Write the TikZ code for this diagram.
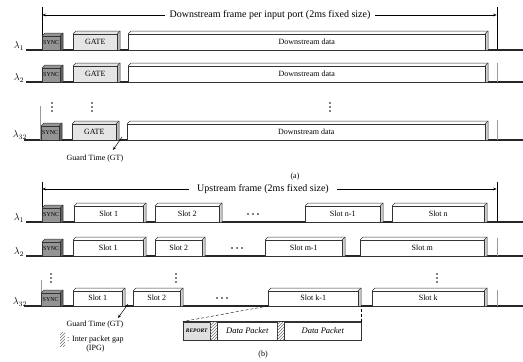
\documentclass[tikz,border=0pt]{standalone}
\usepackage{fontspec}
\setmainfont{Liberation Serif}
\usetikzlibrary{patterns,arrows.meta}
\tikzset{
  boxln/.style={line width=0.5pt, black!80},
  boxface/.style={draw=black!80, line width=0.5pt, inner sep=0pt, anchor=south west, font=\fontsize{8}{9}\selectfont},
  plainbox/.style={draw=black!80, line width=0.5pt, inner sep=0pt, anchor=south west, minimum height=18},
  hatchbox/.style={pattern=north east lines, pattern color=black!55, inner sep=0pt, anchor=south west, minimum height=18},
  baseln/.style={line width=1.3pt, black!85},
  frameln/.style={line width=0.5pt, black},
  faintln/.style={line width=0.8pt, black!40},
  lbl/.style={font=\fontsize{8}{9}\selectfont, inner sep=1pt},
  hdr/.style={font=\fontsize{10}{11}\selectfont, inner sep=4pt},
  lam/.style={font=\fontsize{10}{12}\selectfont, inner sep=0pt},
  dotn/.style={circle, fill=black, inner sep=0pt, minimum size=1.7pt},
  arr/.style={-{Stealth[length=3.5pt,width=2.6pt]}, line width=0.5pt},
  syncf/.style={fill=black!42}, syncs/.style={fill=black!62},
  gatef/.style={fill=black!10}, gates/.style={fill=black!28},
  whitef/.style={fill=white}, whites/.style={fill=black!18},
}
% #1 name, #2 x1, #3 x2, #4 ytop, #5 ybottom, #6 face style, #7 side style, #8 text
\newcommand\bevbox[8]{%
  \fill[#7] ({#3-3},{#4+3}) -- (#3,#4) -- (#3,#5) -- ({#3-3},#5) -- cycle;
  \fill[#6] (#2,{#4+3}) -- ({#2+3},#4) -- (#3,#4) -- ({#3-3},{#4+3}) -- cycle;
  \draw[boxln] (#2,{#4+3}) -- ({#2+3},#4) -- (#3,#4) -- (#3,#5);
  \draw[boxln] ({#3-3},{#4+3}) -- (#3,#4);
  \node[boxface, #6, minimum width={#3-#2-3}, minimum height={#5-#4-3}] (#1) at (#2,#5) {#8};
}
% vertical ellipsis: #1 name, #2 x, #3 y
\newcommand\vdotmark[3]{%
  \node[dotn] (#1a) at (#2,{#3-4}) {};
  \node[dotn] (#1b) at (#2,#3) {};
  \node[dotn] (#1c) at (#2,{#3+4}) {};
}
% horizontal ellipsis: #1 name, #2 x, #3 y
\newcommand\hdotmark[3]{%
  \node[dotn] (#1a) at ({#2-5},#3) {};
  \node[dotn] (#1b) at (#2,#3) {};
  \node[dotn] (#1c) at ({#2+5},#3) {};
}
\begin{document}
\begin{tikzpicture}[x=1pt,y=-1pt]
\useasboundingbox (0,0) rectangle (523,362);

% ================= (a) =================
\coordinate (aL0) at (42,7);  \coordinate (aL1) at (42,50);
\coordinate (aR0) at (497,7); \coordinate (aR1) at (497,50);
\draw[frameln] (aL0) -- (aL1);
\draw[frameln] (aR0) -- (aR1);
\node[hdr] (ahdr) at (270,15) {Downstream frame per input port (2ms fixed size)};
\coordinate (aAL) at (42.3,15); \coordinate (aAR) at (496.7,15);
\draw[arr] (ahdr.west) -- (aAL);
\draw[arr] (ahdr.east) -- (aAR);

% row lambda 1
\node[lam] (la1) at (19,46) {$\lambda_{1}$};
\coordinate (ba1s) at (26,50); \coordinate (ba1e) at (523,50);
\draw[baseln] (ba1s) -- (ba1e);
\bevbox{a1s}{42}{63}{33}{50}{syncf}{syncs}{\fontsize{6}{6}\selectfont SYNC}
\bevbox{a1g}{73}{120}{31}{50}{gatef}{gates}{GATE}
\bevbox{a1d}{128}{488}{31}{50}{whitef}{whites}{Downstream data}

% row lambda 2
\node[lam] (la2) at (19,78) {$\lambda_{2}$};
\coordinate (ba2s) at (26,82); \coordinate (ba2e) at (523,82);
\draw[baseln] (ba2s) -- (ba2e);
\coordinate (aR2a) at (497,63); \coordinate (aR2b) at (497,82);
\draw[faintln] (aR2a) -- (aR2b);
\bevbox{a2s}{42}{63}{65}{82}{syncf}{syncs}{\fontsize{6}{6}\selectfont SYNC}
\bevbox{a2g}{73}{120}{63}{82}{gatef}{gates}{GATE}
\bevbox{a2d}{128}{488}{63}{82}{whitef}{whites}{Downstream data}

% dots
\vdotmark{ad1}{52}{107}
\vdotmark{ad2}{92}{107}
\vdotmark{ad3}{330}{107}

% row lambda 32
\node[lam] (la32) at (20,135) {$\lambda_{32}$};
\coordinate (ba3s) at (24,140); \coordinate (ba3e) at (523,140);
\draw[baseln] (ba3s) -- (ba3e);
\coordinate (aL3a) at (40,106); \coordinate (aL3b) at (40,140);
\draw[faintln] (aL3a) -- (aL3b);
\coordinate (aR3a) at (497,120); \coordinate (aR3b) at (497,140);
\draw[faintln] (aR3a) -- (aR3b);
\bevbox{a3s}{41}{62}{123}{140}{syncf}{syncs}{\fontsize{6}{6}\selectfont SYNC}
\bevbox{a3g}{72}{119}{121}{140}{gatef}{gates}{GATE}
\bevbox{a3d}{127}{488}{121}{140}{whitef}{whites}{Downstream data}

\coordinate (agt) at (122,137);
\coordinate (agtend) at (113,150);
\draw[arr] (agt) -- (agtend);
\node[lbl] (agtt) at (95,159) {Guard Time (GT)};
\node[lbl] (capa) at (295,177) {(a)};

% ================= (b) =================
\coordinate (bL0) at (42,182); \coordinate (bL1) at (42,222);
\coordinate (bR0) at (497,182); \coordinate (bR1) at (497,222);
\draw[frameln] (bL0) -- (bL1);
\draw[frameln] (bR0) -- (bR1);
\node[hdr] (bhdr) at (263,189) {Upstream frame (2ms fixed size)};
\coordinate (bAL) at (42.3,189); \coordinate (bAR) at (496.7,189);
\draw[arr] ([xshift=-4pt]bhdr.west) -- (bAL);
\draw[arr] ([xshift=4pt]bhdr.east) -- (bAR);

% row lambda 1
\node[lam] (lb1) at (19,218) {$\lambda_{1}$};
\coordinate (bb1s) at (26,222); \coordinate (bb1e) at (523,222);
\draw[baseln] (bb1s) -- (bb1e);
\bevbox{b1s}{42}{63}{205}{222}{syncf}{syncs}{\fontsize{6}{6}\selectfont SYNC}
\bevbox{b11}{74}{146}{203}{222}{whitef}{whites}{Slot 1}
\bevbox{b12}{155}{222}{203}{222}{whitef}{whites}{Slot 2}
\hdotmark{bh1}{253}{214}
\bevbox{b1n1}{305}{383}{203}{222}{whitef}{whites}{Slot n-1}
\bevbox{b1n}{392}{487}{203}{222}{whitef}{whites}{Slot n}

% row lambda 2
\node[lam] (lb2) at (19,252) {$\lambda_{2}$};
\coordinate (bb2s) at (26,256); \coordinate (bb2e) at (523,256);
\draw[baseln] (bb2s) -- (bb2e);
\coordinate (bR2a) at (497,238); \coordinate (bR2b) at (497,256);
\draw[faintln] (bR2a) -- (bR2b);
\bevbox{b2s}{42}{63}{239}{256}{syncf}{syncs}{\fontsize{6}{6}\selectfont SYNC}
\bevbox{b21}{73}{146}{237}{256}{whitef}{whites}{Slot 1}
\bevbox{b22}{155}{205}{237}{256}{whitef}{whites}{Slot 2}
\hdotmark{bh2}{237}{248}
\bevbox{b2m1}{265}{345}{237}{256}{whitef}{whites}{Slot m-1}
\bevbox{b2m}{360}{487}{237}{256}{whitef}{whites}{Slot m}

% dots
\vdotmark{bd1}{51}{278}
\vdotmark{bd2}{176}{278}
\vdotmark{bd3}{437}{278}

% row lambda 32
\node[lam] (lb32) at (20,302) {$\lambda_{32}$};
\coordinate (bb3s) at (24,306); \coordinate (bb3e) at (523,306);
\draw[baseln] (bb3s) -- (bb3e);
\coordinate (bL3a) at (41,280); \coordinate (bL3b) at (41,306);
\draw[faintln] (bL3a) -- (bL3b);
\coordinate (bR3a) at (497,290); \coordinate (bR3b) at (497,306);
\draw[faintln] (bR3a) -- (bR3b);
\bevbox{b3s}{41}{63}{290}{306}{syncf}{syncs}{\fontsize{6}{6}\selectfont SYNC}
\bevbox{b31}{73}{125}{288}{306}{whitef}{whites}{Slot 1}
\bevbox{b32}{133}{183}{288}{306}{whitef}{whites}{Slot 2}
\hdotmark{bh3}{222}{298}
\bevbox{b3k1}{268}{361}{288}{306}{whitef}{whites}{Slot k-1}
\bevbox{b3k}{372}{487}{288}{306}{whitef}{whites}{Slot k}

\coordinate (bgt) at (128,304);
\coordinate (bgtend) at (118,318);
\draw[arr] (bgt) -- (bgtend);
\node[lbl] (bgtt) at (95,325) {Guard Time (GT)};

% IPG legend
\node[hatchbox, minimum width=5, minimum height=14] (ipgk) at (60,347) {};
\node[lbl, anchor=west, align=center, font=\fontsize{8}{8.5}\selectfont] (ipgt) at (66,344) {: Inter packet gap\\(IPG)};

% packet detail
\node[plainbox, fill=black!12, minimum width=27, font=\fontsize{5.5}{6}\selectfont\bfseries\itshape] (rep) at (183,340) {REPORT};
\node[hatchbox, minimum width=7] (ipg1) at (210,340) {};
\node[plainbox, minimum width=60, font=\fontsize{8.5}{9}\selectfont\itshape] (dp1) at (217,340) {Data Packet};
\node[hatchbox, minimum width=7] (ipg2) at (277,340) {};
\node[plainbox, minimum width=77, font=\fontsize{8.5}{9}\selectfont\itshape] (dp2) at (284,340) {Data Packet};
\draw[boxln] (rep.north west) -- (dp2.north east);
\draw[boxln] (rep.south west) -- (dp2.south east);
\draw[densely dashed, line width=0.4pt] (b3k1.south west) -- (rep.north west);
\draw[densely dashed, line width=0.4pt] (dp2.north east) -- (dp2.north east |- b3k1.south);

\node[lbl] (capb) at (263,355) {(b)};
\end{tikzpicture}
\end{document}
